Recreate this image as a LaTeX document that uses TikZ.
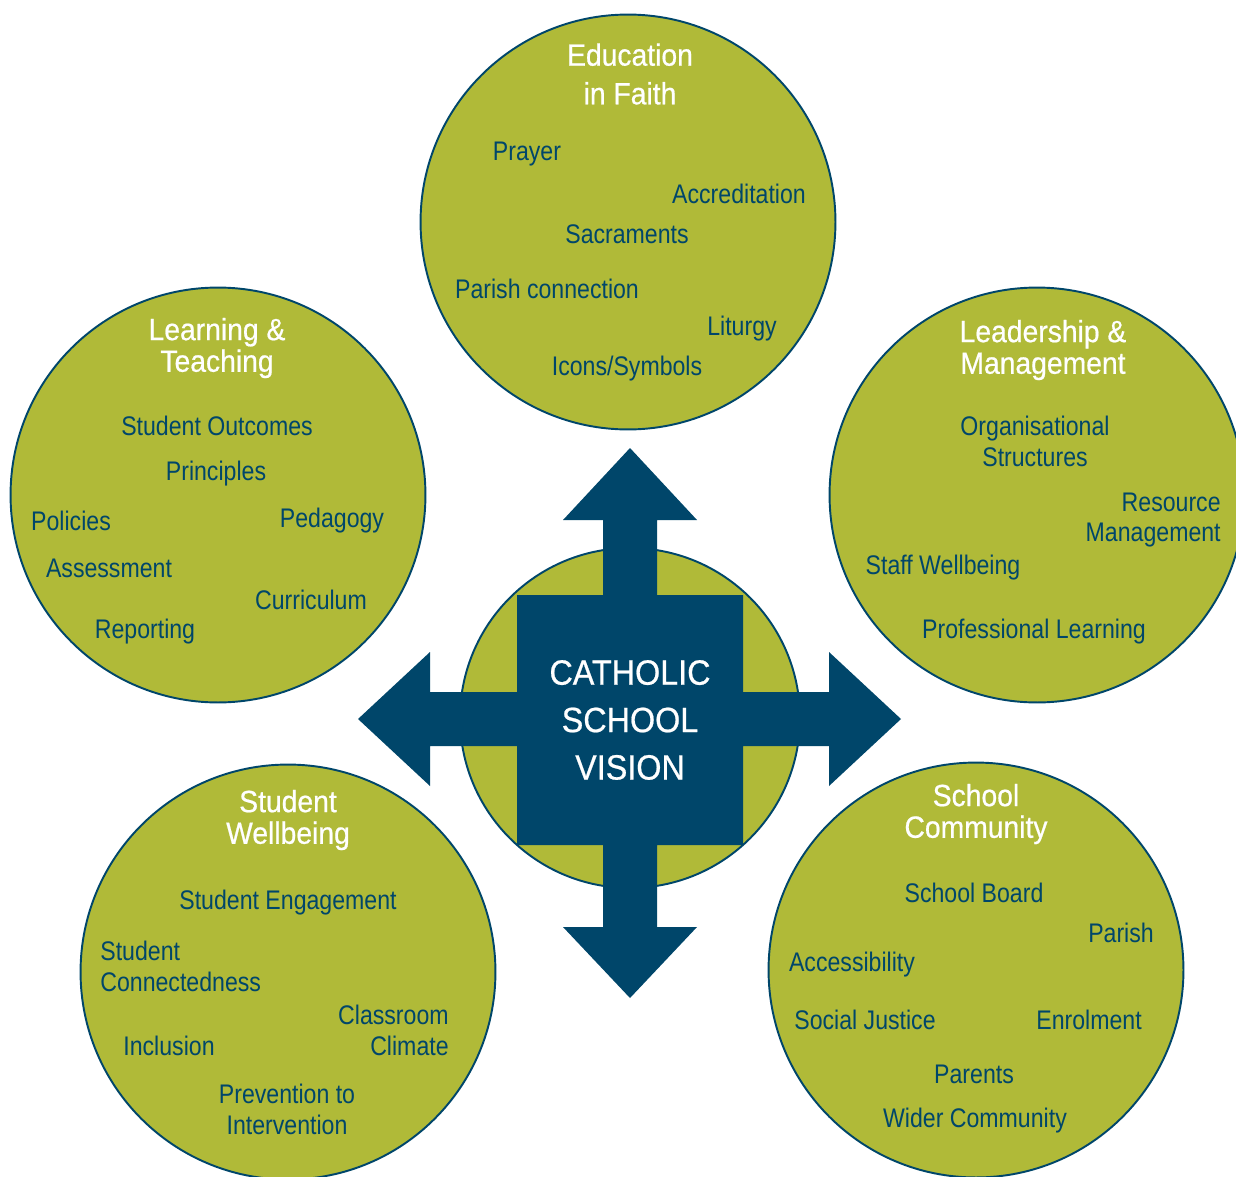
\documentclass[tikz,border=0pt]{standalone}
\usepackage{fontspec}
\setmainfont{Liberation Sans}[FakeStretch=0.86]
\newfontfamily\headfont{Liberation Sans}[FakeStretch=0.92,FakeBold=0.6]
\usepackage{tikz}
\definecolor{leafgreen}{HTML}{B0BA38}
\definecolor{deepblue}{HTML}{00466A}
\tikzset{area circle/.style={
  circle,
  draw=deepblue,
  line width=1.1pt,
  fill=leafgreen,
  minimum size=8.3cm,
  inner sep=0pt
  }
}
\tikzset{area title/.style={
  text=white,
  align=center,
  font=\headfont\fontsize{17.5}{18}\selectfont
  }
}
\tikzset{area item/.style={
  text=deepblue,
  inner sep=0pt,
  font=\fontsize{15.3}{17.6}\selectfont
  }
}
\begin{document}
\begin{tikzpicture}[x=0.02cm,y=-0.02cm]
    \useasboundingbox (0,0) rectangle (1236,1176);
    \clip (0,0) rectangle (1236,1176);

    % the five areas
    \node[area circle] (faith) at (628,222) {};
    \node[area circle] (learn) at (218,495) {};
    \node[area circle] (lead) at (1037,495) {};
    \node[area circle] (well) at (288,972) {};
    \node[area circle] (comm) at (976,970) {};

    \node[area title,font=\headfont\fontsize{17.5}{22}\selectfont] (faithT) at (630,74) {Education\\in Faith};
    \node[area title] (learnT) at (217,348) {Learning \&\\Teaching};
    \node[area title] (leadT) at (1043,350) {Leadership \&\\Management};
    \node[area title] (wellT) at (288,820) {Student\\Wellbeing};
    \node[area title] (commT) at (976,814) {School\\Community};

    \foreach \x/\y/\t [count=\n] in {527/154/Prayer,739/194/Accreditation,627/234/Sacraments,547/289/Parish connection,742/329/Liturgy,627/369/Icons\slash Symbols}
        \node[area item] (faith\n) at (\x,\y) {\t};

    \foreach \x/\y/\t [count=\n] in {217/426/Student Outcomes,216/474/Principles,71/521/Policies,332/521/Pedagogy,109/568/Assessment,311/600/Curriculum,145/632/Reporting}
        \node[area item] (learn\n) at (\x,\y) {\t};

    \foreach \x/\y/\t [count=\n] in {943/568/Staff Wellbeing,1034/632/Professional Learning}
        \node[area item] (lead\n) at (\x,\y) {\t};
    \node[area item,align=center] (lead3) at (1035,441) {Organisational\\Structures};
    \node[area item,align=right,anchor=east] (lead4) at (1221,520) {Resource\\Management};

    \foreach \x/\y/\t [count=\n] in {288/903/Student Engagement,169/1046/Inclusion}
        \node[area item] (well\n) at (\x,\y) {\t};
    \node[area item,align=left,anchor=west] (well3) at (100,966) {Student\\Connectedness};
    \node[area item,align=right,anchor=east] (well4) at (449,1030) {Classroom\\Climate};
    \node[area item,align=center] (well5) at (287,1109) {Prevention to\\Intervention};

    \foreach \x/\y/\t [count=\n] in {974/893/School Board,1121/933/Parish,852/965/Accessibility,865/1020/Social Justice,1089/1020/Enrolment,974/1074/Parents,975/1121/Wider Community}
        \node[area item] (comm\n) at (\x,\y) {\t};

    % centre with the four arrows
    \node[area circle,minimum size=6.8cm] (vision) at (630,718) {};
    \fill[deepblue] (630,448) -- (697,520) -- (657,520) -- (657,595) -- (743,595) -- (743,692)
        -- (829,692) -- (829,652) -- (901,719) -- (829,786) -- (829,746) -- (743,746)
        -- (743,845) -- (657,845) -- (657,927) -- (697,927) -- (630,998) -- (563,927)
        -- (603,927) -- (603,845) -- (517,845) -- (517,746) -- (430,746) -- (430,786)
        -- (358,719) -- (430,652) -- (430,692) -- (517,692) -- (517,595) -- (603,595)
        -- (603,520) -- (563,520) -- cycle;
    \node[text=white,align=center,font=\headfont\fontsize{20}{27}\selectfont] (visionT) at (630,720) {CATHOLIC\\SCHOOL\\VISION};
\end{tikzpicture}
\end{document}
